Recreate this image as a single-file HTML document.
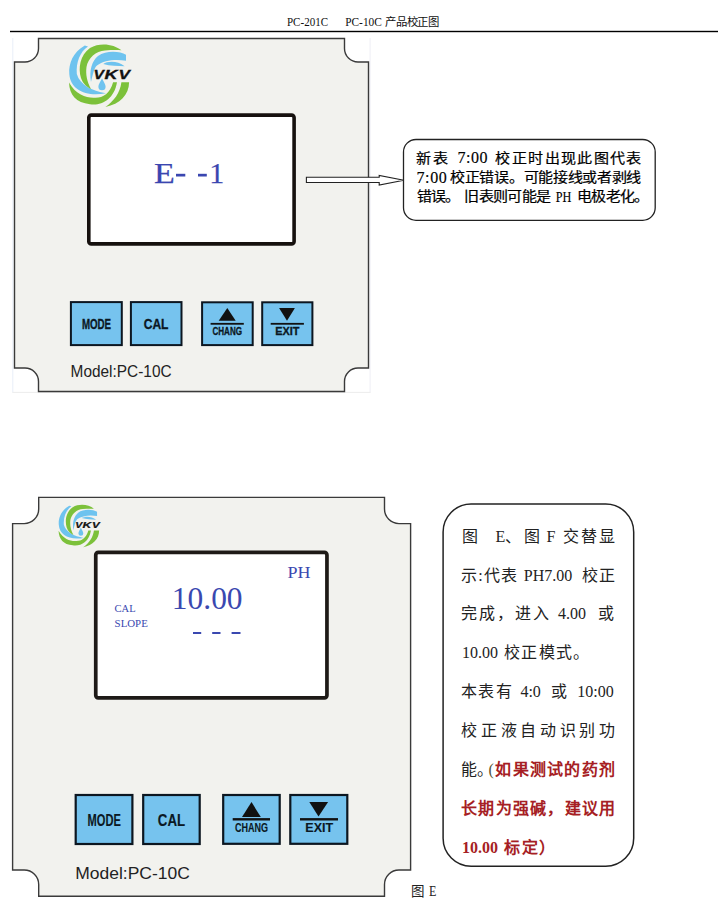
<!DOCTYPE html>
<html lang="zh-CN">
<head>
<meta charset="utf-8">
<style>
html,body{margin:0;padding:0;background:#fff;}
body{width:725px;height:917px;overflow:hidden;}
svg{display:block;}
.serif{font-family:"Liberation Serif",serif;}
.sans{font-family:"Liberation Sans",sans-serif;}
.mono{font-family:"Liberation Mono",monospace;}
</style>
</head>
<body>
<svg width="725" height="917" viewBox="0 0 725 917">
<defs>
<g id="logo">
  <path fill="#6ec3ef" d="M84.8 45.6C73 52 68.5 64 69.3 74C70.5 90 86 97 106 93.3C92 91 80 85 76.8 74C76 62 80 52 88 46.6Z"/>
  <path fill="#7cc13a" d="M121.4 50.3C114 44 100 42 90 48C80 55 78 68 81 78C83 84 87 87 91 88.9C87 82 85.5 74 86.5 67C88 58 96 51 105 50.5C112 50 117 50 121.4 50.3Z"/>
  <path fill="#6ec3ef" d="M126 54.7C120 51 106 50 98 56C92 61 89 70 91 82C93 74 94 68 97 65.5C104 60 116 59 126 60.8Z"/>
  <path fill="#6ec3ef" d="M103.2 64C108 60.8 118 60.8 124.7 66.3C118 66 110 66.2 103.2 64Z"/>
  <path fill="#7cc13a" d="M69 82.6C69.5 95 76 103 90 104.2C101 106 114 100 117 82.3H113.1C110 94 102 98.5 94 97.8C86 98 76 95 69 82.6Z"/>
  <path fill="#7cc13a" d="M121.4 82.3H129.1C129 95 120 104 105.4 107.1C114 101 120 93 121.4 82.3Z"/>
  <path fill="#6ec3ef" d="M102 78.4C100 82 98.4 84.5 98.4 86.7A3.6 3.6 0 0 0 105.6 86.7C105.6 84.5 104 82 102 78.4Z"/>
  <g class="sans" font-weight="bold" font-style="italic" font-size="13.5" fill="#111" stroke="#111" stroke-width="0.35"><text x="93.6" y="78.6" textLength="10.4" lengthAdjust="spacingAndGlyphs">V</text><text x="104.6" y="78.6" textLength="13" lengthAdjust="spacingAndGlyphs">K</text><text x="118.6" y="78.6" textLength="11.4" lengthAdjust="spacingAndGlyphs">V</text></g>
</g>
</defs>

<!-- header -->
<text x="287" y="26.3" class="serif" font-size="11.5" textLength="41" lengthAdjust="spacingAndGlyphs" fill="#111">PC-201C</text>
<text x="345.2" y="26.3" class="serif" font-size="11.5" textLength="94" lengthAdjust="spacingAndGlyphs" fill="#111">PC-10C 产品校正图</text>
<rect x="10" y="30.8" width="708" height="1.4" fill="#000"/>

<!-- panel 1 -->
<rect x="12.3" y="38" width="1" height="354.5" fill="#e9eef8"/>
<rect x="369.6" y="38" width="1" height="354.5" fill="#eeeef6"/>
<rect x="12.3" y="391.9" width="358.3" height="1" fill="#ededed"/>
<path d="M38.5 38.5H344.5V48.5A13.5 13.5 0 0 0 358 62H368.5V368H358A13.5 13.5 0 0 0 344.5 381.5V391.5H38.5V381.5A13.5 13.5 0 0 0 25 368H14.5V62H25A13.5 13.5 0 0 0 38.5 48.5Z" fill="#f2f2ee" stroke="#3a3a3a" stroke-width="1.4"/>
<use href="#logo"/>
<rect x="88.8" y="115.1" width="205.3" height="128.8" rx="2.5" fill="#fff" stroke="#16110e" stroke-width="3.6"/>
<g class="serif" font-size="30" fill="#3a46b0" stroke="#3a46b0" stroke-width="0.25">
<text x="153.9" y="182.8" textLength="20.8" lengthAdjust="spacingAndGlyphs">E</text>
<text x="209.3" y="182.8">1</text>
</g>
<rect x="176" y="173.8" width="9.3" height="2.7" fill="#3a46b0"/>
<rect x="198" y="173.8" width="8.8" height="2.7" fill="#3a46b0"/>

<!-- buttons 1 -->
<g stroke="#0c1620" stroke-width="2" fill="#76c3ee">
<rect x="70.9" y="302.1" width="50.9" height="43"/>
<rect x="130.9" y="302.1" width="50.6" height="43"/>
<rect x="202.1" y="302.3" width="50.6" height="42.8"/>
<rect x="262.2" y="302.3" width="50.2" height="42.8"/>
</g>
<g class="sans" font-weight="bold" fill="#0b1824" stroke="#0b1824" stroke-width="0.3">
<text x="81.9" y="328.8" font-size="14" textLength="29.2" lengthAdjust="spacingAndGlyphs">MODE</text>
<text x="143.7" y="328.8" font-size="14" textLength="24.8" lengthAdjust="spacingAndGlyphs">CAL</text>
<text x="212.4" y="334.5" font-size="11.3" textLength="29.6" lengthAdjust="spacingAndGlyphs">CHANG</text>
<text x="275.2" y="334.5" font-size="11.3" textLength="24.2" lengthAdjust="spacingAndGlyphs">EXIT</text>
</g>
<g fill="#111">
<path d="M227.3 307.9L235.7 320.8H218.7Z"/>
<rect x="210.6" y="322.9" width="33.2" height="1.8"/>
<path d="M279.1 307.9H294.9L287 320.8Z"/>
<rect x="270.7" y="322.9" width="33.2" height="1.8"/>
</g>
<text x="70.6" y="376.6" class="sans" font-size="15.6" textLength="101" lengthAdjust="spacingAndGlyphs" fill="#222">Model:PC-10C</text>

<!-- arrow -->
<path d="M306.4 177.3H379.2V175.4L403.9 180.2L379.2 185V182.5H306.4Z" fill="#fff" stroke="#222" stroke-width="1.1"/>

<!-- callout 1 -->
<rect x="403.5" y="139.5" width="251.7" height="80.8" rx="12.5" fill="#fff" stroke="#222" stroke-width="1.3"/>
<g font-weight="500" font-size="13.2" fill="#000" stroke="#000" stroke-width="0.2" class="sans" transform="matrix(1.14 0 0 1 -58.380 0)">
<text x="416.47 430.86" y="163.5">新表</text>
<text x="485.86 500.21 514.56 528.92 543.27 557.62 571.98 586.33 600.68" y="163.5">校正时出现此图代表</text>
<text x="446.03 458.92 471.81 484.70 497.58 510.47 523.36 536.25 549.13 562.02 574.91 587.80 600.68" y="182">校正错误。可能接线或者剥线</text>
<text x="416.65 429.28 441.91" y="201.3">错误。</text>
<text x="458.66 471.23 483.79 496.35 508.91 521.47" y="201.3">旧表则可能是</text>
<text x="557.35 569.89 582.44 594.98 607.52" y="201.3">电极老化。</text>
</g>
<g fill="#000" class="serif" font-size="16" stroke="#000" stroke-width="0.15">
<text x="457.4" y="163" textLength="30" lengthAdjust="spacing">7:00</text>
<text x="416.5" y="182.7" textLength="30.3" lengthAdjust="spacing">7:00</text>
<text x="555.8" y="201.9" font-size="15.3" textLength="15.6" lengthAdjust="spacingAndGlyphs">PH</text>
</g>

<!-- panel 2 -->
<path d="M38.7 497.4H384.5V509.1A14.5 14.5 0 0 0 399 523.6H410.6V870H399A14.5 14.5 0 0 0 384.5 884.5V896.2H38.7V884.5A14.5 14.5 0 0 0 24.2 870H12.6V523.6H24.2A14.5 14.5 0 0 0 38.7 509.1Z" fill="#f2f2ee" stroke="#3a3a3a" stroke-width="1.4"/>
<use href="#logo" transform="translate(57.9 504.6) scale(0.675) translate(-68 -44)"/>
<rect x="95.75" y="552.45" width="231.2" height="145.4" rx="2.5" fill="#fff" stroke="#1e1a17" stroke-width="3.7"/>
<g class="serif" fill="#3a48b0">
<text x="287.6" y="577.7" font-size="16.3" textLength="23" lengthAdjust="spacingAndGlyphs">PH</text>
<text x="171.8" y="609.1" font-size="31.5" textLength="70.8" lengthAdjust="spacingAndGlyphs">10.00</text>
<text x="114.6" y="612.2" font-size="10" textLength="21" lengthAdjust="spacingAndGlyphs">CAL</text>
<text x="114.6" y="626.7" font-size="10" textLength="33.2" lengthAdjust="spacingAndGlyphs">SLOPE</text>
<rect x="193" y="632" width="8.2" height="2"/>
<rect x="212.2" y="632" width="8.3" height="2"/>
<rect x="231.6" y="632" width="8.9" height="2"/>
</g>

<!-- buttons 2 -->
<g stroke="#0c1620" stroke-width="2.2" fill="#76c3ee">
<rect x="75.7" y="795" width="56.7" height="49"/>
<rect x="143.2" y="795" width="56.5" height="49"/>
<rect x="223.2" y="795" width="56.5" height="48.8"/>
<rect x="290.3" y="795" width="57" height="48.8"/>
</g>
<g class="sans" font-weight="bold" fill="#0b1824" stroke="#0b1824" stroke-width="0.12">
<text x="87.6" y="825.6" font-size="16" textLength="33.3" lengthAdjust="spacingAndGlyphs">MODE</text>
<text x="157.8" y="825.6" font-size="16" textLength="27.3" lengthAdjust="spacingAndGlyphs">CAL</text>
<text x="234.9" y="831.9" font-size="12.4" textLength="33.1" lengthAdjust="spacingAndGlyphs">CHANG</text>
<text x="305.3" y="831.9" font-size="12.4" textLength="27.9" lengthAdjust="spacingAndGlyphs">EXIT</text>
</g>
<g fill="#111">
<path d="M251.5 802.1L260.8 817.1H242Z"/>
<rect x="232.7" y="818.1" width="37.3" height="2.4"/>
<path d="M309.3 802.1H328.1L318.5 816.4Z"/>
<rect x="300" y="818.1" width="38" height="2.4"/>
</g>
<text x="75.2" y="879.3" class="sans" font-size="16.9" textLength="114.6" lengthAdjust="spacingAndGlyphs" fill="#222">Model:PC-10C</text>
<g class="serif" fill="#222"><text x="410.9" y="896" font-size="13.5">图</text><text x="429" y="895.6" font-size="15" textLength="7.4" lengthAdjust="spacingAndGlyphs">E</text></g>

<!-- callout 2 -->
<rect x="443.1" y="504" width="190.6" height="362.2" rx="28" fill="#fff" stroke="#222" stroke-width="1.5"/>
<g class="serif" font-size="16" fill="#222" font-weight="350">
<text x="462.3" y="541.6" textLength="16.2" lengthAdjust="spacing">图</text>
<text x="495.4" y="541.6">E、</text>
<text x="523.7" y="541.6" textLength="16.2" lengthAdjust="spacing">图</text>
<text x="546.6" y="541.6">F</text>
<text x="563.1" y="541.6" textLength="51.9" lengthAdjust="spacing">交替显</text>
<text x="461.1" y="580.5" textLength="56.0" lengthAdjust="spacing">示:代表</text>
<text x="523.8" y="580.5">PH7.00</text>
<text x="581.7" y="580.5" textLength="33.3" lengthAdjust="spacing">校正</text>
<text x="461.1" y="619.4" textLength="87.9" lengthAdjust="spacing">完成，进入</text>
<text x="558.0" y="619.4">4.00</text>
<text x="597.7" y="619.4" textLength="17.3" lengthAdjust="spacing">或</text>
<text x="462" y="658.3">10.00</text><text x="503.9" y="658.3" textLength="85.5" lengthAdjust="spacing">校正模式。</text>
<text x="461.1" y="697.2" textLength="50.4" lengthAdjust="spacing">本表有</text>
<text x="520.4" y="697.2">4:0</text>
<text x="551.0" y="697.2" textLength="17.4" lengthAdjust="spacing">或</text>
<text x="577.3" y="697.2">10:00</text>
<text x="461.1" y="736.1" textLength="153.9" lengthAdjust="spacing">校正液自动识别功</text>
<text x="461.2" y="775.0">能。</text>
<text x="488.5" y="775.0" fill="#553">(</text>
<text x="495.3" y="775.0" textLength="119.7" lengthAdjust="spacing" fill="#a61e24" font-weight="bold">如果测试的药剂</text>
<text x="461.1" y="813.9" textLength="153.9" lengthAdjust="spacing" fill="#a61e24" font-weight="bold">长期为强碱，建议用</text>
<text x="462" y="852.8" fill="#a61e24" font-weight="bold">10.00</text><text x="504.1" y="852.8" fill="#a61e24" font-weight="bold" textLength="51" lengthAdjust="spacing">标定）</text>
</g>
</svg>
</body>
</html>
